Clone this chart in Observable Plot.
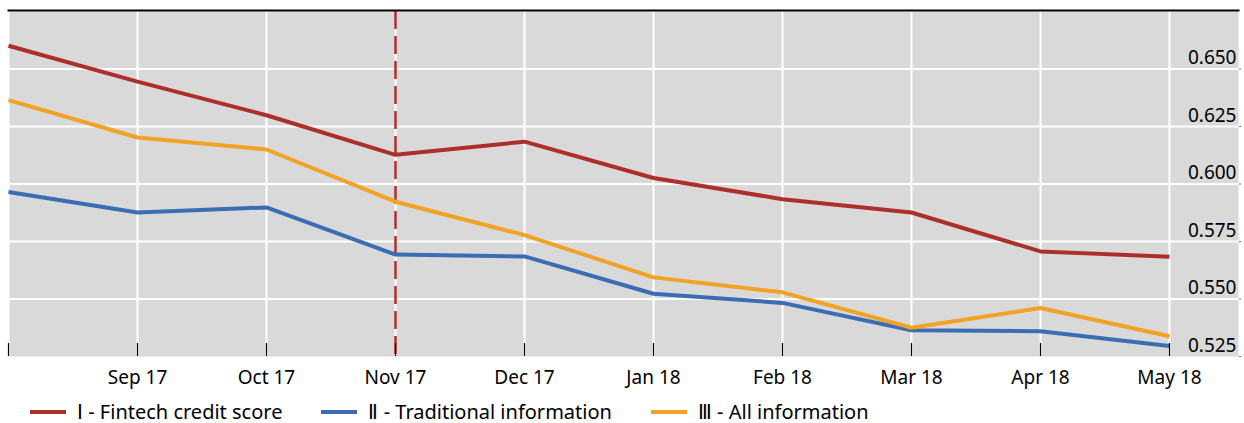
<!DOCTYPE html>
<html>
<head>
<meta charset="utf-8">
<script src="https://cdn.jsdelivr.net/npm/d3@7"></script>
<script src="https://cdn.jsdelivr.net/npm/@observablehq/plot@0.6"></script>
<style>
  html, body { margin: 0; padding: 0; background: #fff; }
  body { width: 1244px; font-family: "Noto Sans", "Open Sans", sans-serif; }
  #chart svg { display: block; }
  #legend { display: flex; align-items: center; box-sizing: border-box; height: 31px; padding-top: 9px; padding-left: 30px; font-size: 20px; line-height: 22px; color: #000; }
  .item { display: flex; align-items: center; margin-right: 39px; }
  .sw { width: 36px; height: 4px; margin-right: 11px; }
</style>
</head>
<body>
<div id="chart"></div>
<div id="legend"></div>
<script>
const months = ["Aug 17", "Sep 17", "Oct 17", "Nov 17", "Dec 17", "Jan 18", "Feb 18", "Mar 18", "Apr 18", "May 18"];
const seriesNames = ["Ⅰ - Fintech credit score", "Ⅱ - Traditional information", "Ⅲ - All information"];
const colors = ["#ad2f2c", "#3c6db4", "#f0a324"];
const fintech     = [0.6601, 0.6445, 0.6299, 0.6127, 0.6184, 0.6026, 0.5934, 0.5876, 0.5707, 0.5684];
const traditional = [0.5965, 0.5876, 0.5898, 0.5693, 0.5685, 0.5523, 0.5483, 0.5364, 0.5360, 0.5296];
const allInfo     = [0.6365, 0.6202, 0.6150, 0.5923, 0.5778, 0.5594, 0.5529, 0.5375, 0.5461, 0.5338];
const yTicks = [0.525, 0.550, 0.575, 0.600, 0.625, 0.650];
const markerMonth = "Nov 17";

const seriesValues = [fintech, traditional, allInfo];
const data = seriesValues.flatMap((vals, s) => vals.map((v, i) => ({i, v, series: seriesNames[s]})));
const idx = months.map((_, i) => i);
const labelIdx = idx.slice(1);
const font = "\"Noto Sans\", \"Open Sans\", sans-serif";

const plot = Plot.plot({
  width: 1244,
  height: 392,
  marginTop: 11,
  marginBottom: 36,
  marginLeft: 8,
  marginRight: 6,
  style: {fontFamily: font, fontSize: "19px", color: "#000", background: "#fff"},
  x: {type: "linear", domain: [0, 9.535], axis: null},
  y: {domain: [0.525, 0.675], axis: null},
  color: {domain: seriesNames, range: colors},
  marks: [
    Plot.frame({fill: "#d9d9d9", stroke: null}),
    Plot.gridX(idx, {stroke: "#fff", strokeOpacity: 1, strokeWidth: 2}),
    Plot.gridY(yTicks.slice(1), {stroke: "#fff", strokeOpacity: 1, strokeWidth: 2}),
    Plot.ruleX([months.indexOf(markerMonth)], {stroke: colors[0], strokeWidth: 2.5, strokeDasharray: "18,7"}),
    Plot.line(data, {x: "i", y: "v", z: "series", stroke: "series", strokeWidth: 4, strokeLinejoin: "miter", strokeLinecap: "butt"}),
    Plot.axisX({ticks: idx, tickSize: 13, dy: -13, tickFormat: () => "", label: null, stroke: "#000", strokeWidth: 1.2}),
    Plot.axisX({ticks: labelIdx, tickSize: 0, tickPadding: 13.5, tickFormat: i => months[i], label: null, fontSize: 19, fill: "#000"}),
    Plot.axisY({ticks: yTicks, anchor: "right", tickSize: 0, tickPadding: 0, textAnchor: "end", dx: -2, dy: -11, tickFormat: d3.format(".3f"), label: null, fontSize: 19, fill: "#000"}),
    Plot.axisY({ticks: yTicks, anchor: "right", tickSize: 2, tickFormat: () => "", label: null, stroke: "#777"}),
    Plot.frame({anchor: "top", stroke: "#000", strokeWidth: 2, dy: -1})
  ]
});
document.getElementById("chart").appendChild(plot);

const legend = document.getElementById("legend");
seriesNames.forEach((name, k) => {
  const item = document.createElement("div");
  item.className = "item";
  const sw = document.createElement("span");
  sw.className = "sw";
  sw.style.background = colors[k];
  const label = document.createElement("span");
  label.textContent = name;
  item.appendChild(sw);
  item.appendChild(label);
  legend.appendChild(item);
});
</script>
</body>
</html>
